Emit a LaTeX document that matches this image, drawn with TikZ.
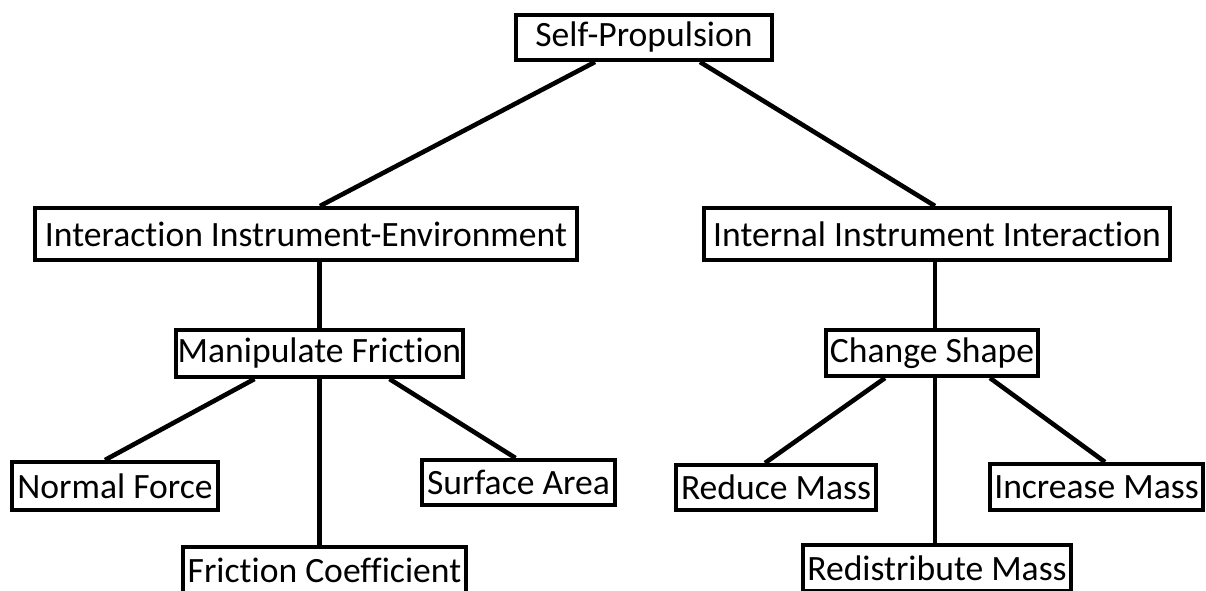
\documentclass[tikz,border=0pt]{standalone}
\usepackage{fontspec}
\setmainfont[Ligatures={NoCommon}]{Carlito}
\usetikzlibrary{calc}
\begin{document}
\begin{tikzpicture}[x=0.5pt,y=-0.5pt,
  box/.style={draw=black,line width=2pt,fill=white,inner sep=0pt,
    font=\fontsize{17.8}{21}\selectfont},
  conn/.style={line width=2.3pt}]
\useasboundingbox[fill=white] (0,0) rectangle (1206,590);
\node[box,minimum width=128pt,minimum height=22.5pt] (sp) at (644,37.5) {Self-Propulsion};
\node[box,minimum width=271pt,minimum height=26pt] (iie) at (306,234) {Interaction Instrument-Environment};
\node[box,minimum width=233pt,minimum height=26pt] (iii) at (937,234) {Internal Instrument Interaction};
\node[box,minimum width=143.5pt,minimum height=23.5pt] (mf) at (319.5,353.5) {Manipulate Friction};
\node[box,minimum width=106pt,minimum height=23pt] (cs) at (932,353) {Change Shape};
\node[box,minimum width=103pt,minimum height=24pt] (nf) at (115,486) {Normal Force};
\node[box,minimum width=96.5pt,minimum height=22.5pt] (sa) at (518.5,482.5) {Surface Area};
\node[box,minimum width=141.5pt,minimum height=23pt] (fc) at (324.5,570) {Friction Coefficient};
\node[box,minimum width=100pt,minimum height=22.5pt] (rm) at (776,487.5) {Reduce Mass};
\node[box,minimum width=106.5pt,minimum height=23pt] (im) at (1096.5,487) {Increase Mass};
\node[box,minimum width=134pt,minimum height=23pt] (rdm) at (937,568) {Redistribute Mass};
\draw[conn] ($(sp.south)+(-49,0)$) -- ($(iie.north)+(14,0)$);
\draw[conn] ($(sp.south)+(56,0)$) -- ($(iii.north)+(-2,0)$);
\draw[conn] (iie.south -| mf.north) -- (mf.north);
\draw[conn] ($(iii.south)+(-2,0)$) -- ($(cs.north)+(3,0)$);
\draw[conn] ($(mf.south)+(-65,0)$) -- ($(nf.north)+(-10,0)$);
\draw[conn] (mf.south) -- (mf.south |- fc.north);
\draw[conn] ($(mf.south)+(70,0)$) -- ($(sa.north)+(-3,0)$);
\draw[conn] ($(cs.south)+(-47,0)$) -- ($(rm.north)+(-11,0)$);
\draw[conn] ($(cs.south)+(3,0)$) -- ($(cs.south |- rdm.north)+(3,0)$);
\draw[conn] ($(cs.south)+(58,0)$) -- ($(im.north)+(8.5,0)$);
\end{tikzpicture}
\end{document}
